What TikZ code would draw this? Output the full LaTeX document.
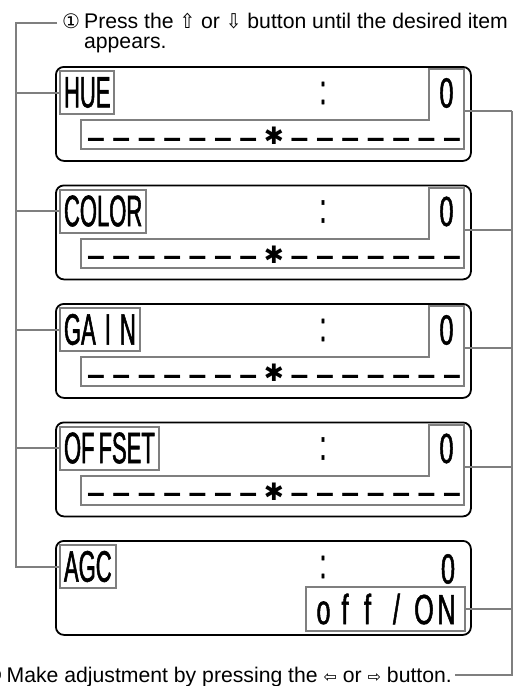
\documentclass[tikz,border=0pt]{standalone}
\usepackage{fontspec}
\setmainfont{Liberation Sans}
\newfontfamily\lcdfont[FakeStretch=0.5,FakeBold=1.2]{Liberation Sans}
\newfontfamily\lcdwide[FakeStretch=0.6,FakeBold=1.2]{Liberation Sans}
\newfontfamily\symfont{DejaVu Sans}
\definecolor{lgray}{HTML}{7F7F7F}
\newcommand\lc[1]{\makebox[25.4pt]{#1}}
\newcommand\ar[1]{{\symfont\fontsize{16}{16}\selectfont #1}}
\newcommand\arv[1]{{\symfont\fontsize{17}{17}\selectfont\scalebox{1.1}[1.2]{#1}}}
\newcommand\circnum[1]{{\symfont\fontsize{20}{20}\selectfont #1}}
\newcommand\dashes{\lc{–}\lc{–}\lc{–}\lc{–}\lc{–}\lc{–}\lc{–}}
\tikzset{
  panel/.style={draw=black, line width=1.8pt, rounded corners=8pt, minimum width=415pt, minimum height=94pt, inner sep=0pt},
  gbox/.style={draw=lgray, line width=2pt},
  lcd/.style={inner sep=0pt, font=\lcdwide\fontsize{42}{42}\selectfont},
  lbl/.style={gbox, inner ysep=0pt, inner xsep=4pt, anchor=north west, minimum height=43pt, font=\lcdfont\fontsize{44}{44}\selectfont},
  conn/.style={draw=lgray, line width=2pt},
  dashrow/.style={inner sep=0pt, font=\bfseries\fontsize{32}{32}\selectfont, anchor=base},
  star/.style={inner sep=0pt, font=\symfont\fontsize{24}{24}\selectfont},
  note/.style={inner ysep=0pt, inner xsep=5pt, font=\fontsize{21.2}{20}\selectfont}
}
\newcommand\lcdpanel[3]{%
  \node[panel, anchor=north west] (p#1) at (55,#2) {};
  \node[lbl] (l#1) at (59,#2+4) {#3};
  \node[lcd] (c#1) at (323,#2+27) {:};
}
\newcommand\lcdbar[2]{%
  \draw[gbox] (81,#2+54) -- (429,#2+54) -- (429,#2+3) -- (464,#2+3) -- (464,#2+83) -- (81,#2+83) -- cycle;
  \node[lcd] (v#1) at (446.5,#2+27) {0};
  \node[dashrow, anchor=base east] (dl#1) at (261.3,#2+82) {\dashes};
  \node[star] (s#1) at (274,#2+70) {✱};
  \node[dashrow, anchor=base west] (dr#1) at (286.7,#2+82) {\dashes};
  \coordinate (r#1) at (464,#2+45);
}
\begin{document}
\begin{tikzpicture}[x=1pt,y=-1pt]
\useasboundingbox (0,0) rectangle (529,686);
\fill[white] (0,0) rectangle (529,686);

% panels
\lcdpanel{1}{66}{HUE}
\lcdbar{1}{66}
\lcdpanel{2}{184.5}{COLOR}
\lcdbar{2}{184.5}
\lcdpanel{3}{303}{GA\hspace{9pt}I\hspace{9pt}N}
\lcdbar{3}{303}
\lcdpanel{4}{421.5}{OF\kern4pt FSET}
\lcdbar{4}{421.5}
\lcdpanel{5}{540}{AGC}
\node[lcd] (v5) at (448,569) {0};
\node[gbox, lcd, minimum width=159pt, minimum height=44pt] (o5) at (385.5,609) {\makebox[22pt]{o}\makebox[21pt]{f}\makebox[24pt]{f}\makebox[34pt]{/}\makebox[21pt]{O}\makebox[24pt]{N}};

% notes
\node[note, anchor=base west] (t1) at (57,28) {\begin{tabular}[t]{@{}l@{}}\circnum{①}\hspace{4pt}Press the \arv{⇧} or \arv{⇩} button until the desired item\\ \hphantom{\circnum{①}\hspace{4pt}}appears.\end{tabular}};
\node[note, inner xsep=3pt, anchor=base east] (t3) at (455,682) {\circnum{②}\hspace{4pt}Make adjustment by pressing the \ar{⇦} or \ar{⇨} button.};

% left trunk
\coordinate (lt0) at (16,23);
\draw[conn] (lt0 -| t1.west) -- (lt0) -- (lt0 |- l5.west) -- (l5.west);
\foreach \i in {1,...,4}{\draw[conn] (l\i.west) -- (l\i.west -| lt0);}

% right trunk
\coordinate (rb) at (512,675);
\foreach \i in {1,...,4}{\draw[conn] (r\i) -- (r\i -| rb);}
\draw[conn] (o5.east) -- (o5.east -| rb);
\draw[conn] (r1 -| rb) -- (rb) -- (rb -| t3.east);
\end{tikzpicture}
\end{document}
